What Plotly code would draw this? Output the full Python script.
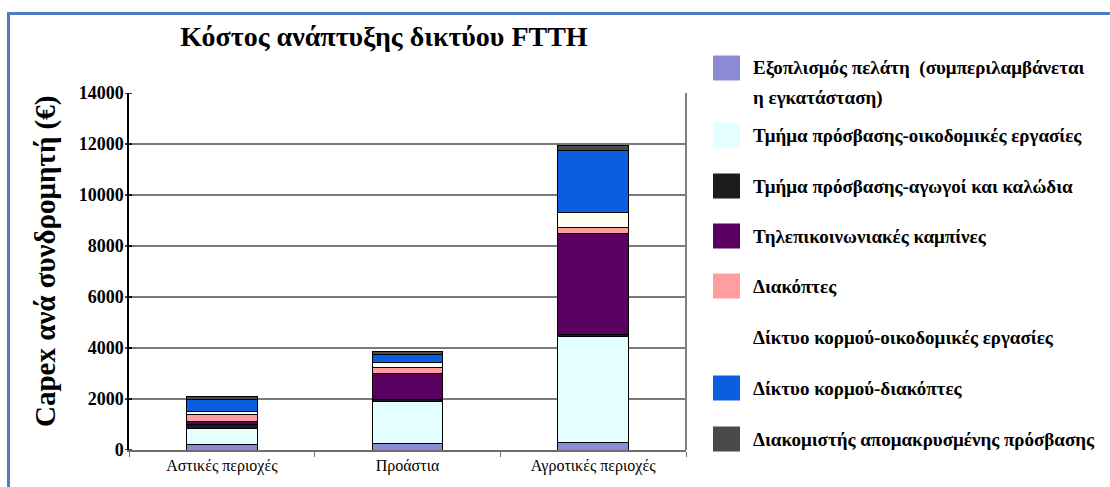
import plotly.graph_objects as go

# Cost categories (x axis)
categories = ["Αστικές περιοχές", "Προάστια", "Αγροτικές περιοχές"]

# Stacked cost components, per subscriber (€), bottom to top
customer_equipment = [200, 250, 300]
access_civil_works = [650, 1650, 4150]
access_ducts_cables = [150, 100, 80]
telecom_cabinets = [120, 1000, 3950]
switches = [280, 250, 250]
core_civil_works = [100, 200, 570]
core_switches = [500, 280, 2450]
remote_access_server = [80, 120, 200]

series_names = [
    "Εξοπλισμός πελάτη  (συμπεριλαμβάνεται<br>η εγκατάσταση)",
    "Τμήμα πρόσβασης-οικοδομικές εργασίες",
    "Τμήμα πρόσβασης-αγωγοί και καλώδια",
    "Τηλεπικοινωνιακές καμπίνες",
    "Διακόπτες",
    "Δίκτυο κορμού-οικοδομικές εργασίες",
    "Δίκτυο κορμού-διακόπτες",
    "Διακομιστής απομακρυσμένης πρόσβασης",
]
series_values = [
    customer_equipment, access_civil_works, access_ducts_cables, telecom_cabinets,
    switches, core_civil_works, core_switches, remote_access_server,
]
series_colors = [
    "#8c8cd6", "#e4ffff", "#1c1c1c", "#5a0060",
    "#ff9e9e", "#fffff2", "#0a5fe0", "#4a4a4a",
]

y_ticks = [0, 2000, 4000, 6000, 8000, 10000, 12000, 14000]

W, H = 1110, 487
L, R, T, B = 129, 686, 93, 450  # plot area in pixels

def px_x(x):
    return (x - L) / (R - L)

def px_y(y):
    return (B - y) / (B - T)

SERIF = "Liberation Serif"

fig = go.Figure()
for name, vals, col in zip(series_names, series_values, series_colors):
    fig.add_trace(go.Bar(
        x=categories, y=vals, name=name,
        marker=dict(color=col, line=dict(color="#000000", width=1)),
        showlegend=False,
    ))

shapes = []
annotations = []

# Legend drawn at the right: swatch + label
legend_centers = [68, 135, 186, 236, 286, 337, 388, 439]
for name, col, cy in zip(series_names, series_colors, legend_centers):
    if col != "#fffff2":
        shapes.append(dict(
            type="rect", xref="paper", yref="paper",
            x0=px_x(713), x1=px_x(740), y0=px_y(cy + 12.5), y1=px_y(cy - 12.5),
            fillcolor=col, line=dict(width=0),
        ))
    lines = name.split("<br>")
    for i, ln in enumerate(lines):
        annotations.append(dict(
            text="<b>" + ln + "</b>", xref="paper", yref="paper",
            x=px_x(751), y=px_y(cy + i * 30), xanchor="left", yanchor="middle",
            showarrow=False, font=dict(family=SERIF, size=19, color="#000000"),
        ))

# Y axis title
annotations.append(dict(
    text="<b>Capex ανά συνδρομητή (€)</b>", xref="paper", yref="paper",
    x=px_x(45), y=px_y(262), xanchor="center", yanchor="middle",
    textangle=-90, showarrow=False,
    font=dict(family=SERIF, size=29, color="#000000"),
))

# Short tick marks crossing the value axis
for v in y_ticks:
    shapes.append(dict(type="line", xref="paper", yref="y",
                       x0=px_x(125), x1=px_x(132), y0=v, y1=v,
                       line=dict(color="#000000", width=1.5)))

# Right border of plot area
shapes.append(dict(type="line", xref="paper", yref="paper", x0=1, x1=1, y0=0, y1=1,
                   line=dict(color="#808080", width=2)))

# Outer blue frame (top and left edges)
shapes.append(dict(type="line", xref="paper", yref="paper",
                   x0=px_x(8.5), x1=px_x(1115), y0=px_y(13.5), y1=px_y(13.5),
                   line=dict(color="#4a7ec0", width=3)))
shapes.append(dict(type="line", xref="paper", yref="paper",
                   x0=px_x(8.5), x1=px_x(8.5), y0=px_y(12), y1=px_y(495),
                   line=dict(color="#4a7ec0", width=3)))

fig.update_layout(
    width=W, height=H,
    margin=dict(l=L, r=W - R, t=T, b=H - B, pad=0),
    paper_bgcolor="#ffffff", plot_bgcolor="#ffffff",
    barmode="stack", bargap=0.62,
    title=dict(
        text="<b>Κόστος ανάπτυξης δικτύου FTTH</b>",
        x=384 / W, xanchor="center", xref="container",
        y=1 - 36 / H, yanchor="middle", yref="container",
        font=dict(family=SERIF, size=28, color="#000000"),
    ),
    xaxis=dict(
        showline=True, linecolor="#6e6e6e", linewidth=2,
        ticks="outside", ticklen=5, tickcolor="#6e6e6e", tickson="boundaries",
        tickfont=dict(family=SERIF, size=16, color="#000000"),
        showgrid=False,
    ),
    yaxis=dict(
        range=[0, 14000], tickvals=y_ticks,
        ticktext=["<b>%d</b>" % v for v in y_ticks],
        showline=True, linecolor="#000000", linewidth=1.5,
        ticks="inside", ticklen=3, tickcolor="#000000",
        tickfont=dict(family=SERIF, size=18, color="#000000"),
        showgrid=True, gridcolor="#7a7a7a", gridwidth=2,
        zeroline=False,
    ),
    shapes=shapes, annotations=annotations,
)

fig.write_html("out.html")
